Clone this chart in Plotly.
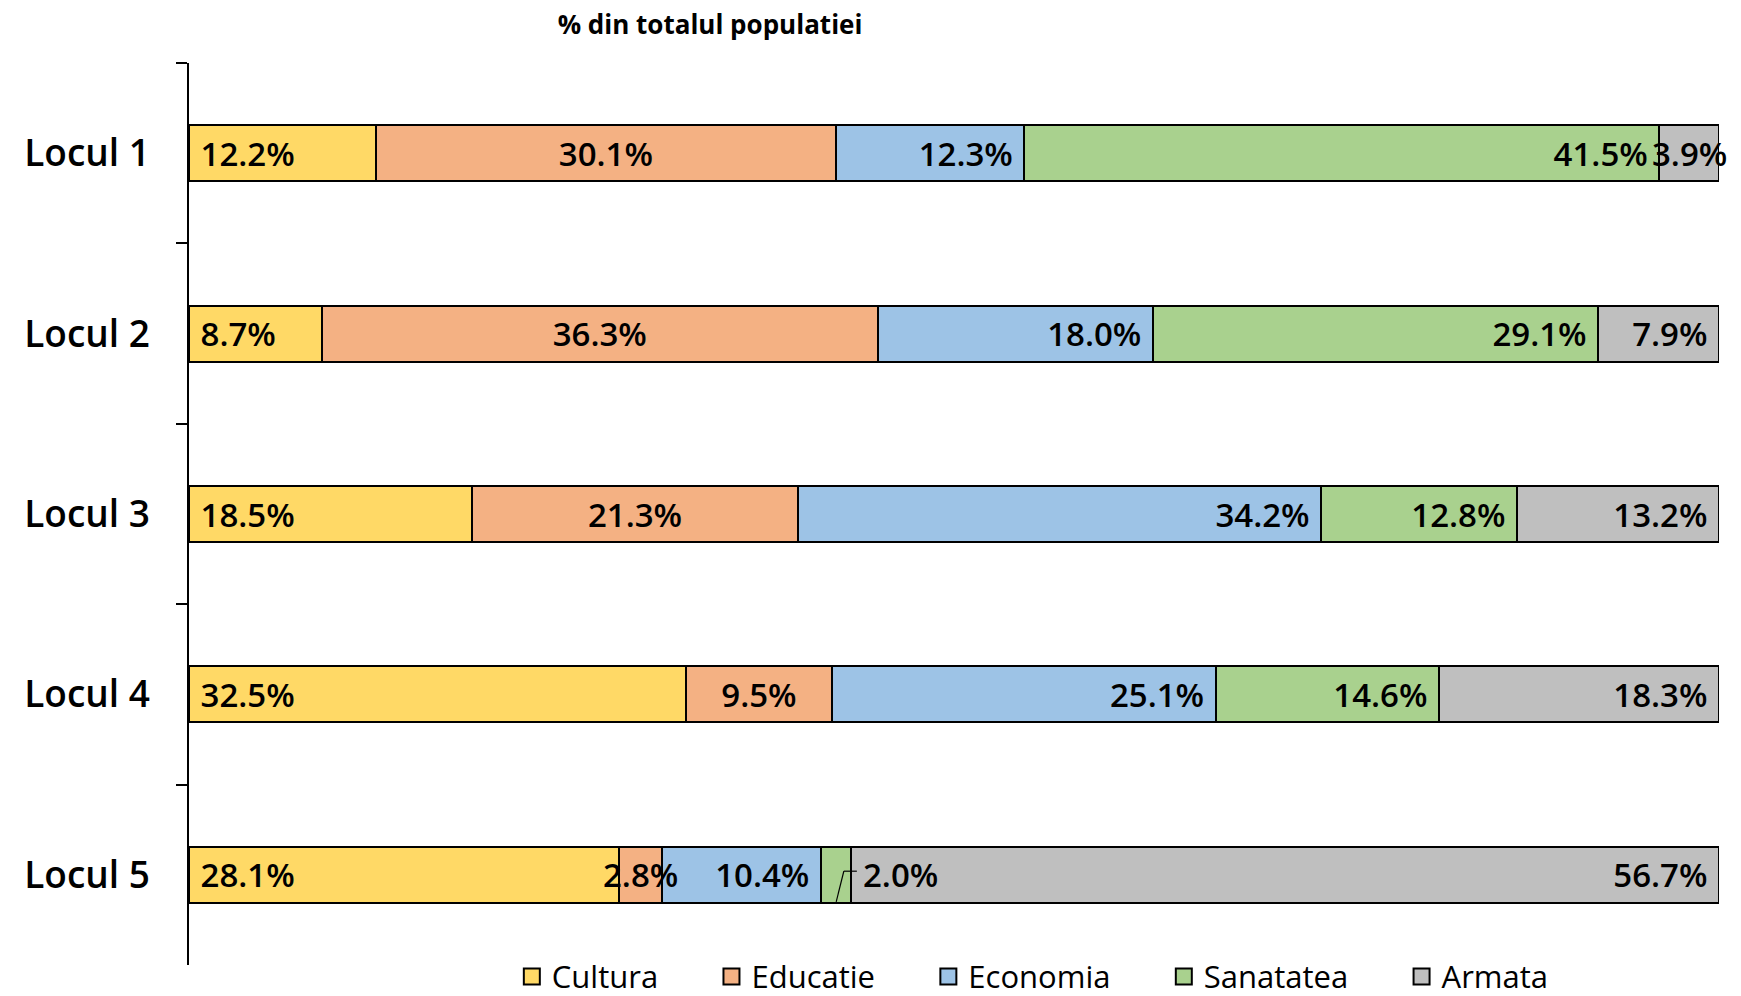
import plotly.graph_objects as go

categories = ["Locul 1", "Locul 2", "Locul 3", "Locul 4", "Locul 5"]
series_names = ["Cultura", "Educatie", "Economia", "Sanatatea", "Armata"]
cultura = [12.2, 8.7, 18.5, 32.5, 28.1]
educatie = [30.1, 36.3, 21.3, 9.5, 2.8]
economia = [12.3, 18.0, 34.2, 25.1, 10.4]
sanatatea = [41.5, 29.1, 12.8, 14.6, 2.0]
armata = [3.9, 7.9, 13.2, 18.3, 56.7]

colors = ["#FFD966", "#F4B183", "#9DC3E6", "#A9D18E", "#BFBFBF"]
anchors = ["start", "middle", "end", "end", "end"]
FONT = "Open Sans"
LABEL_SIZE = 33
NBSP = "\u00a0"
label_font = dict(family=FONT, size=LABEL_SIZE, color="black", weight=600)

# page body has an 8px margin, so the figure is offset by 8px inside the window
W, H = 1733, 988

series = [cultura, educatie, economia, sanatatea, armata]

# labels drawn separately (segment too thin for inside text)
centred_labels = {(1, 4), (4, 0)}  # (series index, category index)
outside_labels = {(3, 4)}

fig = go.Figure()
for si, (name, vals, col, anc) in enumerate(zip(series_names, series, colors, anchors)):
    texts = []
    for ci, v in enumerate(vals):
        if (si, ci) in centred_labels or (si, ci) in outside_labels:
            texts.append("")
        elif anc == "start":
            texts.append(f"{NBSP}{v:.1f}%")
        elif anc == "end":
            texts.append(f"{v:.1f}%{NBSP}")
        else:
            texts.append(f"{v:.1f}%")
    fig.add_trace(go.Bar(
        y=categories,
        x=vals,
        name=name,
        orientation="h",
        marker=dict(color=col, line=dict(color="black", width=2)),
        text=texts,
        textposition="inside",
        insidetextanchor=anc,
        textangle=0,
        constraintext="none",
        textfont=label_font,
        hoverinfo="skip",
        showlegend=False,
    ))

# legend entries with larger square swatches
for name, col in zip(series_names, colors):
    fig.add_trace(go.Scatter(
        x=[None], y=[None], mode="markers", name=name + NBSP * 6,
        marker=dict(symbol="square", size=18, color=col, line=dict(color="black", width=2)),
        hoverinfo="skip",
    ))

# centred labels on thin segments
for si, ci in sorted(centred_labels):
    left = sum(series[k][ci] for k in range(si))
    v = series[si][ci]
    fig.add_annotation(
        x=left + v / 2, y=categories[ci], text=f"{v:.1f}%",
        showarrow=False, xanchor="center", font=label_font,
    )

# 2.0% label outside the tiny green segment of Locul 5 with leader line
g_start = cultura[4] + educatie[4] + economia[4]
g_mid = g_start + sanatatea[4] / 2
a_start = g_start + sanatatea[4]
fig.add_shape(type="line", xref="x", yref="y", x0=g_mid, y0=4.15, x1=g_mid + 0.5, y1=3.98,
              line=dict(color="black", width=1.2))
fig.add_shape(type="line", xref="x", yref="y", x0=g_mid + 0.5, y0=3.98, x1=a_start + 0.35, y1=3.98,
              line=dict(color="black", width=1.2))
fig.add_annotation(
    x=a_start + 0.6, y=categories[4], text=f"{sanatatea[4]:.1f}%",
    showarrow=False, xanchor="left", font=label_font,
)

fig.update_layout(
    width=W,
    height=H,
    barmode="stack",
    bargap=0.69,
    plot_bgcolor="white",
    paper_bgcolor="white",
    margin=dict(l=181, r=22, t=55, b=31, autoexpand=False),
    title=dict(
        text="<b>% din totalul populatiei</b>",
        x=702 / W, xanchor="center", y=1 - 8 / H, yanchor="top",
        font=dict(family=FONT, size=26, color="black", weight=800),
    ),
    legend=dict(
        orientation="h", x=0.211, xanchor="left",
        y=-0.013, yanchor="middle",
        font=dict(family=FONT, size=31, color="black"),
        traceorder="normal",
    ),
    xaxis=dict(range=[0, 100], visible=False, fixedrange=True),
    yaxis=dict(
        autorange="reversed",
        showline=True, linecolor="black", linewidth=1.5,
        ticks="outside", tickson="boundaries", ticklen=11, tickcolor="black", tickwidth=1.5,
        ticklabelstandoff=30,
        tickfont=dict(family=FONT, size=37, color="black", weight=600),
        showgrid=False,
        automargin=False,
    ),
)

fig.write_html("out.html")
